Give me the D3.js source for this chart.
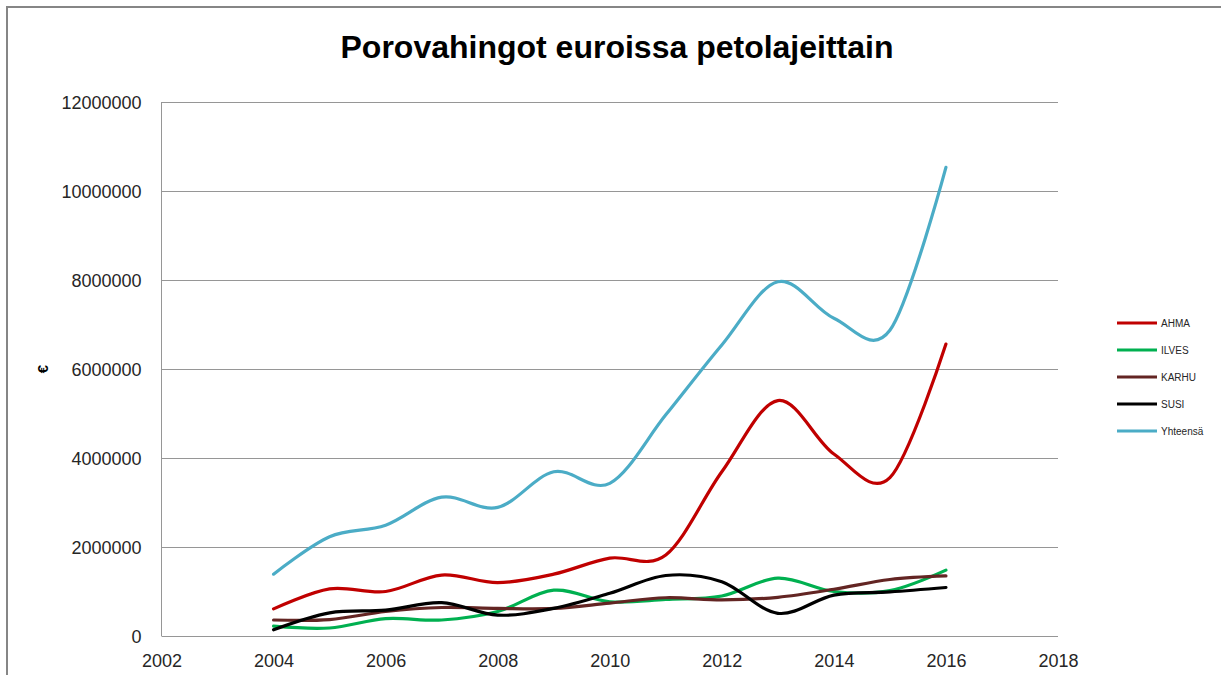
<!DOCTYPE html>
<html><head><meta charset="utf-8">
<script src="https://cdn.jsdelivr.net/npm/d3@7"></script>
<style>html,body{margin:0;padding:0;background:#fff;overflow:hidden}</style>
</head><body>
<svg id="chart" width="1221" height="675"></svg>
<script>
const title = "Porovahingot euroissa petolajeittain";
const years = [2004,2005,2006,2007,2008,2009,2010,2011,2012,2013,2014,2015,2016];
const seriesNames = ["AHMA","ILVES","KARHU","SUSI","Yhteensä"];
const ahma = [610000,1060000,1000000,1370000,1200000,1390000,1750000,1820000,3690000,5290000,4090000,3560000,6560000];
const ilves = [220000,180000,390000,360000,550000,1030000,770000,820000,900000,1300000,1000000,1020000,1480000];
const karhu = [360000,370000,550000,640000,620000,620000,740000,860000,810000,870000,1050000,1270000,1350000];
const susi = [140000,520000,580000,750000,470000,620000,960000,1360000,1220000,510000,920000,990000,1090000];
const yhteensa = [1390000,2230000,2490000,3120000,2890000,3690000,3430000,4970000,6540000,7960000,7140000,6870000,10530000];
const yTicks = [0,2000000,4000000,6000000,8000000,10000000,12000000];
const xTicks = [2002,2004,2006,2008,2010,2012,2014,2016,2018];
const colors = ["#C00000","#00B050","#632523","#000000","#4BACC6"];

const seriesValues = [ahma, ilves, karhu, susi, yhteensa];
const svg = d3.select("#chart");

// outer border
svg.append("rect").attr("x",7).attr("y",7).attr("width",1230).attr("height",700)
  .attr("fill","#fff").attr("stroke","#868686").attr("stroke-width",2);

const x = d3.scaleLinear().domain([2002,2018]).range([161.5,1058]);
const y = d3.scaleLinear().domain([0,12000000]).range([636,102]);

// gridlines
svg.append("g").selectAll("line").data(yTicks).join("line")
  .attr("x1",161.5).attr("x2",1058)
  .attr("y1",d=>Math.round(y(d))+0.5).attr("y2",d=>Math.round(y(d))+0.5)
  .attr("stroke","#969696").attr("stroke-width",1);

// axis line
svg.append("line").attr("x1",161.5).attr("x2",161.5).attr("y1",102).attr("y2",636)
  .attr("stroke","#969696").attr("stroke-width",1);

// y axis labels
const yAxis = d3.axisLeft(y).tickValues(yTicks).tickFormat(d=>String(d)).tickSize(0).tickPadding(20);
const gy = svg.append("g").attr("transform","translate(161.5,0)").call(yAxis);
gy.select(".domain").remove();
gy.selectAll("text").attr("font-family","Liberation Sans, Arial, sans-serif").attr("font-size",18).attr("fill","#262626").attr("dy","0.36em");

// x axis labels
const xAxis = d3.axisBottom(x).tickValues(xTicks).tickFormat(d=>String(d)).tickSize(0).tickPadding(18);
const gx = svg.append("g").attr("transform","translate(0,636)").call(xAxis);
gx.select(".domain").remove();
gx.selectAll("text").attr("font-family","Liberation Sans, Arial, sans-serif").attr("font-size",18).attr("fill","#262626");

// y axis title
svg.append("text").attr("transform","translate(48,369) rotate(-90)")
  .attr("text-anchor","middle").attr("font-family","Liberation Sans, Arial, sans-serif")
  .attr("font-weight","bold").attr("font-size",15).attr("fill","#000").text("€");

// title
const t = svg.append("text").attr("x",617).attr("y",58).attr("text-anchor","middle")
  .attr("font-family","Liberation Sans, Arial, sans-serif").attr("font-weight","bold")
  .attr("font-size",30).attr("fill","#000").text(title);
const tw = t.node().getComputedTextLength();
t.attr("font-size", 30*553/tw);

// lines
const line = d3.line().x(d=>x(d[0])).y(d=>y(d[1])).curve(d3.curveCatmullRom.alpha(0));
seriesValues.forEach((vals,i)=>{
  svg.append("path").datum(years.map((yr,j)=>[yr,vals[j]]))
    .attr("d",line).attr("fill","none").attr("stroke",colors[i])
    .attr("stroke-width",3.2).attr("stroke-linecap","round").attr("stroke-linejoin","round");
});

// legend
const lg = svg.append("g");
seriesNames.forEach((name,i)=>{
  const yy = 323 + i*27;
  lg.append("line").attr("x1",1117).attr("x2",1157).attr("y1",yy).attr("y2",yy)
    .attr("stroke",colors[i]).attr("stroke-width",3);
  lg.append("text").attr("x",1161).attr("y",yy).attr("dy","0.35em")
    .attr("font-family","Liberation Sans, Arial, sans-serif").attr("font-size",10)
    .attr("fill","#262626").text(name);
});
</script>
</body></html>
